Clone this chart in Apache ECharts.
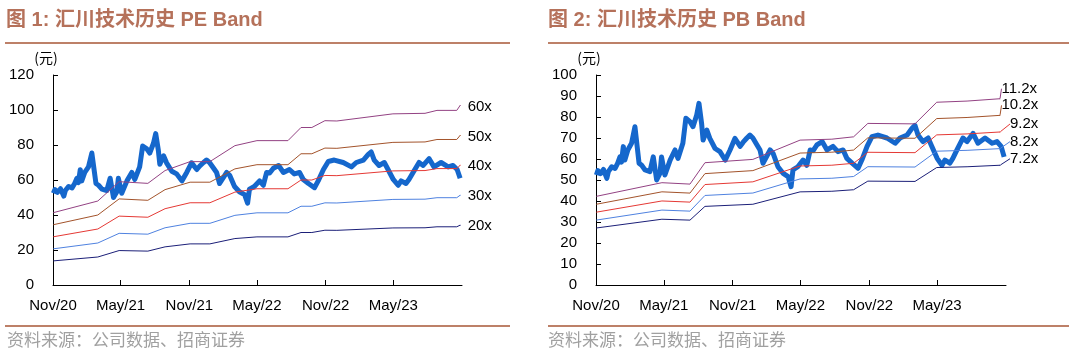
<!DOCTYPE html>
<html><head><meta charset="utf-8">
<script src="https://cdn.jsdelivr.net/npm/echarts@6/dist/echarts.min.js"></script>
<style>html,body{margin:0;padding:0;background:#fff;}#c{width:1076px;height:356px;}</style>
</head><body><div id="c"></div>
<script>
// ---------- DATA ----------
const priceDates = ['2020-11-02','2020-11-06','2020-11-13','2020-11-21','2020-11-30','2020-12-04','2020-12-13','2020-12-22','2020-12-29','2021-01-04','2021-01-08','2021-01-13','2021-01-17','2021-01-25','2021-02-04','2021-02-13','2021-02-18','2021-02-24','2021-03-03','2021-03-12','2021-03-25','2021-04-03','2021-04-12','2021-04-21','2021-04-25','2021-05-04','2021-05-18','2021-05-31','2021-06-08','2021-06-21','2021-06-29','2021-07-10','2021-07-18','2021-07-28','2021-08-03','2021-08-10','2021-08-14','2021-08-24','2021-09-01','2021-09-15','2021-09-28','2021-10-12','2021-10-25','2021-11-07','2021-11-21','2021-11-29','2021-12-09','2021-12-17','2021-12-25','2022-01-05','2022-01-13','2022-01-21','2022-02-09','2022-02-17','2022-03-02','2022-03-15','2022-03-29','2022-04-06','2022-04-11','2022-04-24','2022-05-08','2022-05-18','2022-05-27','2022-06-04','2022-06-14','2022-06-28','2022-07-11','2022-07-27','2022-08-09','2022-08-23','2022-09-02','2022-09-16','2022-10-02','2022-10-12','2022-10-26','2022-11-08','2022-11-24','2022-12-18','2023-01-09','2023-01-22','2023-02-10','2023-02-23','2023-03-03','2023-03-11','2023-03-24','2023-04-07','2023-04-17','2023-05-01','2023-05-14','2023-05-22','2023-06-04','2023-06-12','2023-06-23','2023-07-09','2023-07-20','2023-08-05','2023-08-18','2023-09-06','2023-09-25','2023-10-08','2023-10-19','2023-10-27'];
const priceValues = [52.4,54.5,53,55,50.8,54,56.3,55.5,58,61,58.5,65.9,59.5,64.3,67.5,75.4,75,58,57,54.8,54,61,50,53.3,61,52.4,59.5,64.3,60.3,67.5,79.4,77.8,75.4,81,86.5,77,69,73.8,69.8,65,63.5,59.5,64.3,69.8,66,68,70,71.4,70,66.7,64.3,58,64.3,62.7,56.3,53.3,51.6,46.8,54.8,56.3,59.5,57,64.3,64,66.7,68.3,64.3,66,63.5,64.3,60.3,58,55.6,59.5,66,70.6,71.4,70,67.5,70,71.4,74.6,76,71.4,68.3,70,66,60.3,57,59.5,58,60.3,64.3,70,68.3,72.2,67.5,70,67.5,68.3,66,61];

const epsDates = ['2020-11-02','2021-03-01','2021-04-27','2021-07-13','2021-08-28','2021-11-03','2021-12-26','2022-03-03','2022-05-01','2022-07-23','2022-08-27','2022-09-25','2022-10-30','2022-12-01','2023-04-30','2023-07-25','2023-08-26','2023-10-18','2023-10-27'];
const epsValues = [0.689,0.80,0.984,0.968,1.09,1.175,1.175,1.327,1.375,1.375,1.50,1.50,1.565,1.562,1.63,1.635,1.663,1.663,1.71];
const peMultiples = [20,30,40,50,60];

const bpsDates = ['2020-11-02','2021-04-26','2021-07-10','2021-08-19','2021-12-25','2022-04-30','2022-07-24','2022-09-20','2022-10-28','2023-03-03','2023-04-30','2023-07-20','2023-10-16'];
const bpsValues = [3.77,4.35,4.29,5.2,5.34,6.16,6.2,6.3,6.87,6.85,7.77,7.82,7.92];
const pbMultiples = [7.2,8.2,9.2,10.2,11.2];

const xTickDates = ['2020-11-01','2021-05-01','2021-11-01','2022-05-01','2022-11-01','2023-05-01'];
const xTickLabels = ['Nov/20','May/21','Nov/21','May/22','Nov/22','May/23'];
const xRange = ['2020-11-01','2023-11-01'];

// ---------- STYLE ----------
const bandColors = ['#1b1f78','#4f82e0','#e53935','#a3532b','#934283'];
const priceColor = '#1567cc';
const brown = '#b5715a';
const T = s => Date.parse(s);
const tickMs = xTickDates.map(T);

function xAxis(gi){
  return {
    type:'value', gridIndex:gi, min:T(xRange[0]), max:T(xRange[1]),
    axisLine:{show:true, lineStyle:{color:'#000', width:1}},
    axisTick:{show:true, inside:true, length:5, customValues:tickMs, lineStyle:{color:'#000'}},
    axisLabel:{customValues:tickMs, color:'#000', fontSize:15, fontFamily:'Liberation Sans', margin:13,
      formatter: v => { const i = tickMs.indexOf(v); return i>=0 ? xTickLabels[i] : ''; }},
    splitLine:{show:false}
  };
}
function yAxis(gi, max, interval){
  return {
    type:'value', gridIndex:gi, min:0, max:max, interval:interval,
    name:'(元)', nameLocation:'end', nameGap:10,
    nameTextStyle:{color:'#000', fontSize:14, fontFamily:'Noto Sans CJK SC', align:'center', padding:[0,14,0,0]},
    axisLine:{show:true, lineStyle:{color:'#000', width:1}},
    axisTick:{show:true, inside:true, length:5, lineStyle:{color:'#000'}},
    axisLabel:{color:'#000', fontSize:15, fontFamily:'Liberation Sans', margin:19},
    splitLine:{show:false}
  };
}
function priceSeries(gi){
  return {type:'line', xAxisIndex:gi, yAxisIndex:gi, symbol:'none', silent:true, z:2,
    lineStyle:{color:priceColor, width:5, join:'round'},
    data: priceDates.map((d,i)=>[T(d), priceValues[i]])};
}
function bandSeries(gi, dates, base, mult, color, layout, withLine){
  return {type:'line', xAxisIndex:gi, yAxisIndex:gi, silent:true, z:3,
    showSymbol:true, showAllSymbol:true,
    lineStyle:{color:color, width:1},
    itemStyle:{color:color},
    label:{show:false},
    labelLayout: layout,
    labelLine: withLine ? {show:true, lineStyle:{color:color, width:1}} : {show:false},
    data: dates.map((d,i)=>{
      const last = i===dates.length-1;
      return {value:[T(d), +(base[i]*mult).toFixed(3)],
        symbol: last ? 'circle' : 'none', symbolSize: last ? 1 : 0,
        label: last ? {show:true, position:'right', distance:5, formatter: mult + 'x',
          color:'#000', fontSize:15, fontFamily:'Liberation Sans'} : {show:false}};
    })};
}

const series = [priceSeries(0), priceSeries(1)];
peMultiples.forEach((m,i)=>series.push(bandSeries(0, epsDates, epsValues, m, bandColors[i], {dx:2, dy:1}, false)));
const pbLayouts = [{dx:4.5,dy:-6.5},{dx:4.5,dy:-7},{dx:4.5,dy:-8},{dx:-4,dy:-10},{dx:-4,dy:-10}];
pbMultiples.forEach((m,i)=>series.push(bandSeries(1, bpsDates, bpsValues, m, bandColors[i], pbLayouts[i], true)));

const titleStyle = {color:brown, fontSize:20, fontWeight:'bold', fontFamily:"'Liberation Sans','Noto Sans CJK SC'"};
const srcStyle = {color:'#a0a0a0', fontSize:17, fontWeight:'normal', fontFamily:'Noto Sans CJK SC'};

const option = {
  animation:false,
  backgroundColor:'#fff',
  title:[
    {text:'图 1: 汇川技术历史 PE Band', left:6, top:10, textStyle:titleStyle, padding:0},
    {text:'图 2: 汇川技术历史 PB Band', left:548, top:10, textStyle:titleStyle, padding:0},
    {text:'资料来源：公司数据、招商证券', left:7, top:331, textStyle:srcStyle, padding:0},
    {text:'资料来源：公司数据、招商证券', left:548, top:331, textStyle:srcStyle, padding:0}
  ],
  graphic:[
    {type:'rect', shape:{x:5, y:42, width:505, height:2}, style:{fill:'#bd8068'}, silent:true},
    {type:'rect', shape:{x:548, y:42, width:521, height:2}, style:{fill:'#bd8068'}, silent:true},
    {type:'rect', shape:{x:5, y:325, width:505, height:2}, style:{fill:'#bd8068'}, silent:true},
    {type:'rect', shape:{x:548, y:325, width:521, height:2}, style:{fill:'#bd8068'}, silent:true}
  ],
  grid:[
    {left:53, top:75, width:409, height:210},
    {left:596, top:75, width:410, height:210}
  ],
  xAxis:[xAxis(0), xAxis(1)],
  yAxis:[yAxis(0,120,20), yAxis(1,100,10)],
  series: series
};
const chart = echarts.init(document.getElementById('c'), null, {renderer:'canvas'});
chart.setOption(option);
</script>
</body></html>
